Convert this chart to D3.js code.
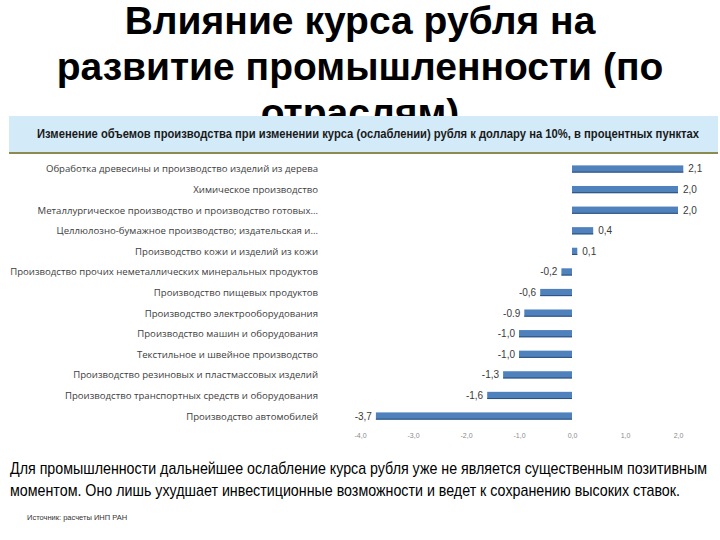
<!DOCTYPE html>
<html><head><meta charset="utf-8">
<script src="https://cdn.jsdelivr.net/npm/d3@7"></script>
<style>body{margin:0;background:#fff}svg{display:block}</style>
</head><body>
<script>
const titleLines = ["Влияние курса рубля на", "развитие промышленности (по", "отраслям)"];
const subtitle = "Изменение объемов производства при изменении курса (ослаблении) рубля к доллару на 10%, в процентных пунктах";
const categories = [
  "Обработка древесины и производство изделий из дерева",
  "Химическое производство",
  "Металлургическое производство и производство готовых...",
  "Целлюлозно-бумажное производство; издательская и...",
  "Производство кожи и изделий из кожи",
  "Производство прочих неметаллических минеральных продуктов",
  "Производство пищевых продуктов",
  "Производство электрооборудования",
  "Производство машин и оборудования",
  "Текстильное и швейное производство",
  "Производство резиновых и пластмассовых изделий",
  "Производство транспортных средств и оборудования",
  "Производство автомобилей"
];
const values = [2.1, 2.0, 2.0, 0.4, 0.1, -0.2, -0.6, -0.9, -1.0, -1.0, -1.3, -1.6, -3.7];
const valueLabels = ["2,1", "2,0", "2,0", "0,4", "0,1", "-0,2", "-0,6", "-0.9", "-1,0", "-1,0", "-1,3", "-1,6", "-3,7"];
const tickValues = [-4, -3, -2, -1, 0, 1, 2];
const tickLabels = ["-4,0", "-3,0", "-2,0", "-1,0", "0,0", "1,0", "2,0"];
const bodyLines = [
  "Для промышленности дальнейшее ослабление курса рубля уже не является существенным позитивным",
  "моментом. Оно лишь ухудшает инвестиционные возможности и ведет к сохранению высоких ставок."
];
const sourceText = "Источник: расчеты ИНП РАН";

const W = 720, H = 540;
const svg = d3.select("body").append("svg").attr("width", W).attr("height", H);

// Title
svg.append("g").selectAll("text").data(titleLines).join("text")
  .attr("x", 360).attr("y", (d, i) => 34 + i * 46)
  .attr("text-anchor", "middle")
  .attr("font-family", "'Liberation Sans', Arial, sans-serif")
  .attr("font-weight", "bold").attr("font-size", 39).attr("fill", "#000")
  .text(d => d);

// Header band (covers third title line)
svg.append("rect").attr("x", 9).attr("y", 116).attr("width", 709).attr("height", 36).attr("fill", "#d3ebf9");
svg.append("rect").attr("x", 9).attr("y", 152).attr("width", 709).attr("height", 2).attr("fill", "#8c8a4e");
svg.append("text").attr("x", 368).attr("y", 137.5).attr("text-anchor", "middle")
  .attr("font-family", "'Liberation Sans Narrow', 'Arial Narrow', 'Liberation Sans', sans-serif")
  .attr("font-stretch", "condensed")
  .attr("font-weight", "bold").attr("font-size", 12.5).attr("fill", "#1a1a1a")
  .attr("textLength", 662).attr("lengthAdjust", "spacingAndGlyphs")
  .text(subtitle);

// Scales
const x = d3.scaleLinear().domain([-4, 2]).range([360, 678]);
const y = d3.scaleBand().domain(categories).range([158.7, 426.3]).paddingInner(0.65).paddingOuter(0.325);

// Bars
const bars = svg.append("g");
bars.selectAll("rect.bar").data(values).join("rect").attr("class", "bar")
  .attr("x", d => x(Math.min(0, d)))
  .attr("y", (d, i) => y(categories[i]))
  .attr("width", d => Math.abs(x(d) - x(0)))
  .attr("height", y.bandwidth())
  .attr("fill", "#4f81bd");
bars.selectAll("rect.shadow").data(values).join("rect").attr("class", "shadow")
  .attr("x", d => x(Math.min(0, d)))
  .attr("y", (d, i) => y(categories[i]) + y.bandwidth() - 1)
  .attr("width", d => Math.abs(x(d) - x(0)))
  .attr("height", 1)
  .attr("fill", "#2d4f78");

// Value labels
svg.append("g").selectAll("text").data(values).join("text")
  .attr("x", d => d >= 0 ? x(d) + 5 : x(d) - 4)
  .attr("y", (d, i) => y(categories[i]) + y.bandwidth() / 2 + 3.5)
  .attr("text-anchor", d => d >= 0 ? "start" : "end")
  .attr("font-family", "'Liberation Sans Narrow', 'Liberation Sans', sans-serif")
  .attr("font-size", 10).attr("fill", "#3a3a3a")
  .text((d, i) => valueLabels[i]);

// Category labels
svg.append("g").selectAll("text").data(categories).join("text")
  .attr("x", 318)
  .attr("y", d => y(d) + y.bandwidth() / 2 + 3.5)
  .attr("text-anchor", "end")
  .attr("font-family", "'Open Sans', 'Liberation Sans', sans-serif")
  .attr("font-size", 9.6).attr("fill", "#404040")
  .text(d => d);

// X axis tick labels
const axis = d3.axisBottom(x).tickValues(tickValues).tickFormat((d, i) => tickLabels[i]).tickSize(0).tickPadding(0);
const ag = svg.append("g").attr("transform", "translate(0,433)").call(axis);
ag.select(".domain").remove();
ag.selectAll("text").attr("font-family", "'Liberation Sans', sans-serif").attr("font-size", 7).attr("fill", "#8a8a8a");

// Body text
svg.append("g").selectAll("text").data(bodyLines).join("text")
  .attr("x", 10).attr("y", (d, i) => 474 + i * 22)
  .attr("font-family", "'Liberation Sans Narrow', 'Arial Narrow', 'Liberation Sans', sans-serif")
  .attr("font-stretch", "condensed")
  .attr("font-size", 17).attr("fill", "#000")
  .attr("textLength", (d, i) => i === 0 ? 697 : 670).attr("lengthAdjust", "spacingAndGlyphs")
  .text(d => d);

// Source
svg.append("text").attr("x", 27).attr("y", 520)
  .attr("font-family", "'Liberation Sans Narrow', 'Liberation Sans', sans-serif")
  .attr("font-size", 7.5).attr("fill", "#333")
  .text(sourceText);
</script>
</body></html>
